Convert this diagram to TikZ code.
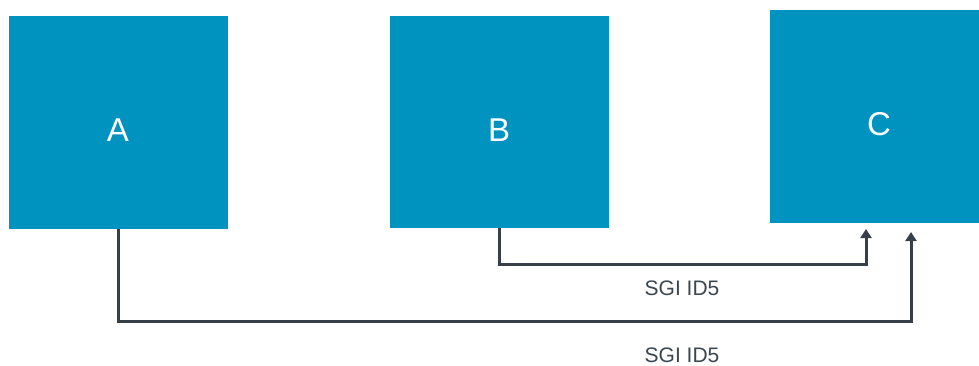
\documentclass[tikz,border=0pt]{standalone}
\usepackage{fontspec}
\setmainfont{Liberation Sans}
\usetikzlibrary{arrows.meta}
\definecolor{boxblue}{HTML}{0093BF}
\definecolor{linegray}{HTML}{37404A}
\definecolor{txtgray}{HTML}{3C4650}
\begin{document}
\begin{tikzpicture}[x=1pt,y=-1pt,
  blk/.style={fill=boxblue,draw=none,inner sep=0},
  blktxt/.style={text=white,inner sep=0,font=\fontsize{33}{38}\selectfont},
  conn/.style={draw=linegray,line width=3pt,-{Triangle[length=9pt,width=11pt]}},
  lbl/.style={text=txtgray,font=\fontsize{21}{25}\selectfont,inner sep=0}]
\useasboundingbox (0,0) rectangle (979,366);
\node[blk,minimum width=219pt,minimum height=213pt] (A) at (118.5,122.5) {};
\node[blk,minimum width=219pt,minimum height=212pt] (B) at (499.5,122) {};
\node[blk,minimum width=209pt,minimum height=213pt] (C) at (874.5,116.5) {};
\node[blktxt] (tA) at (118,130) {A};
\node[blktxt] (tB) at (499,130) {B};
\node[blktxt] (tC) at (879,124) {C};
\coordinate (c1) at (866,229);
\coordinate (c2) at (911,232);
\draw[conn] (A.south) |- (911,321) -- (c2);
\draw[conn] (B.south) |- (866,264) -- (c1);
\node[lbl] (l1) at (682,288) {SGI ID5};
\node[lbl] (l2) at (682,355) {SGI ID5};
\end{tikzpicture}
\end{document}
